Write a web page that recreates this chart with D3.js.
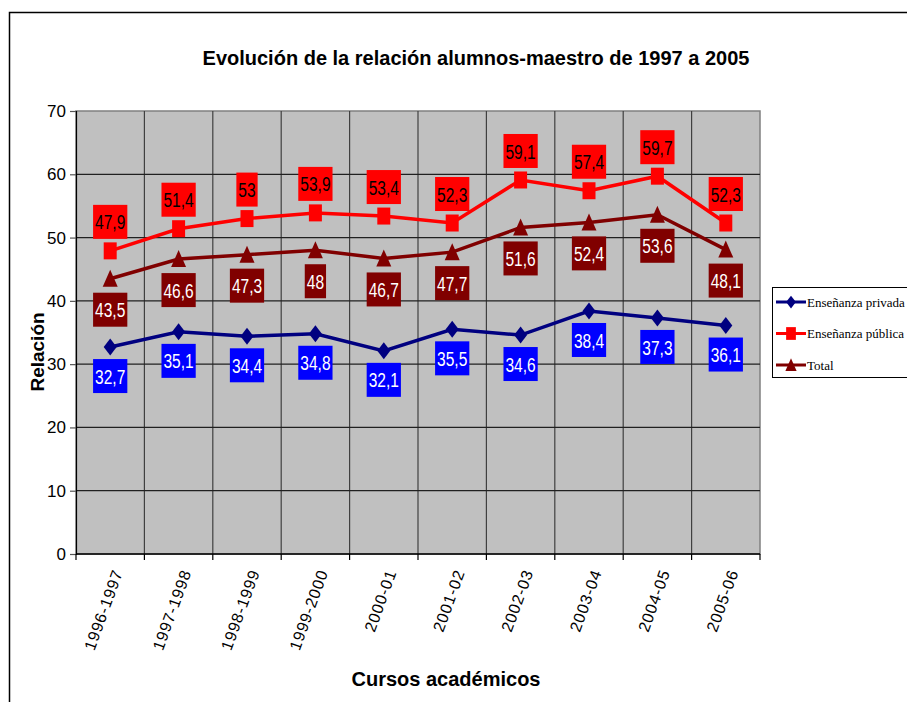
<!DOCTYPE html>
<html>
<head>
<meta charset="utf-8">
<script src="https://cdn.jsdelivr.net/npm/d3@7"></script>
<style>
  body { margin: 0; background: #fff; }
  text { font-family: "Liberation Sans", Arial, sans-serif; }
</style>
</head>
<body>
<div id="chart"></div>
<script>
// chart data
const cursos = ["1996-1997", "1997-1998", "1998-1999", "1999-2000", "2000-01",
  "2001-02", "2002-03", "2003-04", "2004-05", "2005-06"]
const privada = [32.7, 35.1, 34.4, 34.8, 32.1, 35.5, 34.6, 38.4, 37.3, 36.1]
const publica = [47.9, 51.4, 53, 53.9, 53.4, 52.3, 59.1, 57.4, 59.7, 52.3]
const total = [43.5, 46.6, 47.3, 48, 46.7, 47.7, 51.6, 52.4, 53.6, 48.1]
const yTicks = [0, 10, 20, 30, 40, 50, 60, 70]
const serieNames = ["Enseñanza privada", "Enseñanza pública", "Total"]

const W = 907, H = 702
const dim = { left: 76, right: 760, top: 111, bottom: 554 }

const svg = d3.select("#chart").append("svg").attr("width", W).attr("height", H)

// outer frame (only left and top visible)
svg.append("path")
  .attr("d", `M9.5,${H} V12.5 H${W}`)
  .attr("fill", "none").attr("stroke", "#000").attr("stroke-width", 1.5)

const x = d3.scaleBand().domain(cursos).range([dim.left, dim.right])
const y = d3.scaleLinear().domain([0, 70]).range([dim.bottom, dim.top])
const cx = d => x(d) + x.bandwidth() / 2

// plot background
svg.append("rect")
  .attr("x", dim.left).attr("y", dim.top)
  .attr("width", dim.right - dim.left).attr("height", dim.bottom - dim.top)
  .attr("fill", "#c0c0c0").attr("stroke", "#808080").attr("stroke-width", 1.5)

const grid = svg.append("g")
// vertical grid at band boundaries
cursos.slice(1).forEach(c => {
  grid.append("line")
    .attr("x1", x(c)).attr("x2", x(c)).attr("y1", dim.top).attr("y2", dim.bottom)
    .attr("stroke", "#404040").attr("stroke-width", 1.2)
})
yTicks.slice(1, -1).forEach(t => {
  grid.append("line")
    .attr("x1", dim.left).attr("x2", dim.right).attr("y1", y(t)).attr("y2", y(t))
    .attr("stroke", "#202020").attr("stroke-width", 1.2)
})

// y axis
const yAxis = svg.append("g")
  .attr("transform", `translate(${dim.left},0)`)
  .call(d3.axisLeft(y).tickValues(yTicks).tickSize(6).tickPadding(4))
yAxis.select(".domain").attr("stroke", "#000").attr("stroke-width", 1.2)
yAxis.selectAll(".tick line").attr("stroke", "#555").attr("stroke-width", 1.2)
yAxis.selectAll(".tick text")
  .attr("font-size", 17).attr("fill", "#000")
  .attr("font-family", "Liberation Sans, Arial, sans-serif")

// x axis: ticks at boundaries, labels at band centers
const xAxis = svg.append("g")
xAxis.append("line")
  .attr("x1", dim.left).attr("x2", dim.right).attr("y1", dim.bottom).attr("y2", dim.bottom)
  .attr("stroke", "#000").attr("stroke-width", 1.5)
cursos.concat([null]).forEach((c, i) => {
  const xx = c ? x(c) : dim.right
  xAxis.append("line")
    .attr("x1", xx).attr("x2", xx).attr("y1", dim.bottom).attr("y2", dim.bottom + 6)
    .attr("stroke", "#000").attr("stroke-width", 1.2)
})
cursos.forEach(c => {
  xAxis.append("text")
    .attr("transform", `translate(${cx(c) + 13},${dim.bottom + 18}) rotate(-70)`)
    .attr("text-anchor", "end")
    .attr("font-size", 16)
    .attr("letter-spacing", 0.9)
    .text(c)
})

// series
const series = [
  { name: serieNames[0], values: privada, color: "#000080", box: "#0000ff", txt: "#fff", marker: "diamond", off: 29 },
  { name: serieNames[1], values: publica, color: "#ff0000", box: "#ff0000", txt: "#000", marker: "square", off: -29 },
  { name: serieNames[2], values: total, color: "#800000", box: "#800000", txt: "#fff", marker: "triangle", off: 31 }
]

function markerPath(type) {
  if (type === "diamond") return "M0,-8.5L6.5,0L0,8.5L-6.5,0Z"
  if (type === "square") return "M-6.5,-8.5H6.5V8.5H-6.5Z"
  return "M0,-9L7.5,8L-7.5,8Z"
}

const line = d3.line().x(d => cx(d.c)).y(d => y(d.v))

series.forEach(s => {
  const pts = s.values.map((v, i) => ({ c: cursos[i], v }))
  svg.append("path")
    .attr("d", line(pts))
    .attr("fill", "none").attr("stroke", s.color).attr("stroke-width", 3.5)
  svg.append("g").selectAll("path").data(pts).join("path")
    .attr("transform", d => `translate(${cx(d.c)},${y(d.v)})`)
    .attr("d", markerPath(s.marker))
    .attr("fill", s.color)
})

// data labels
series.forEach(s => {
  s.values.forEach((v, i) => {
    const g = svg.append("g")
      .attr("transform", `translate(${cx(cursos[i])},${y(v) + s.off})`)
    const rect = g.append("rect").attr("fill", s.box)
    const t = g.append("text")
      .attr("text-anchor", "middle").attr("dy", "0.36em")
      .attr("font-size", 21).attr("fill", s.txt)
      .attr("transform", "scale(0.74,1)")
      .text(String(v).replace(".", ","))
    const w = t.node().getComputedTextLength() * 0.74 + 4
    rect.attr("x", -w / 2).attr("y", -17).attr("width", w).attr("height", 34)
  })
})

// legend
const leg = svg.append("g").attr("transform", "translate(772,287)")
leg.append("rect").attr("x", 0.5).attr("y", 0.5).attr("width", 200).attr("height", 90)
  .attr("fill", "#fff").attr("stroke", "#000").attr("stroke-width", 1)
series.forEach((s, i) => {
  const ly = 15 + i * 31.5
  leg.append("line").attr("x1", 4).attr("x2", 34).attr("y1", ly).attr("y2", ly)
    .attr("stroke", s.color).attr("stroke-width", 3)
  leg.append("path").attr("transform", `translate(19,${ly}) scale(0.75)`)
    .attr("d", markerPath(s.marker)).attr("fill", s.color)
  leg.append("text").attr("x", 35).attr("y", ly).attr("dy", "0.35em")
    .attr("font-size", 13).style("font-family", "Liberation Serif, Times New Roman, serif")
    .text(s.name)
})

// titles
svg.append("text").attr("x", 476).attr("y", 65).attr("text-anchor", "middle")
  .attr("font-size", 20).attr("font-weight", "bold")
  .text("Evolución de la relación alumnos-maestro de 1997 a 2005")
svg.append("text").attr("x", 446).attr("y", 686).attr("text-anchor", "middle")
  .attr("font-size", 20).attr("font-weight", "bold")
  .text("Cursos académicos")
svg.append("text").attr("transform", "translate(44,352) rotate(-90)").attr("text-anchor", "middle")
  .attr("font-size", 19).attr("font-weight", "bold")
  .text("Relación")
</script>
</body>
</html>
